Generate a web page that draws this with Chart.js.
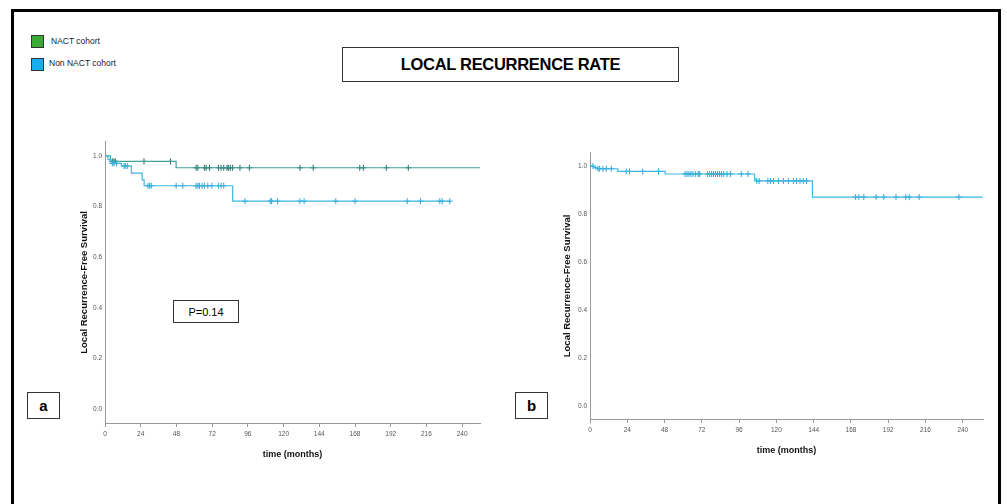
<!DOCTYPE html>
<html>
<head>
<meta charset="utf-8">
<script src="https://cdn.jsdelivr.net/npm/chart.js@4.4.0/dist/chart.umd.min.js"></script>
<style>
  body { margin: 0; background: #fff; width: 1007px; height: 504px; overflow: hidden; position: relative; font-family: "Liberation Sans", Arial, sans-serif; }
  .frame { position: absolute; left: 11px; top: 9px; width: 990px; height: 600px; border: 3px solid #000; box-sizing: border-box; }
  .sw { position: absolute; width: 11px; height: 11px; border: 1px solid #333; }
  .lg { position: absolute; font-size: 8.5px; color: #222; }
  .box { position: absolute; border: 1px solid #333; background: #fff; box-sizing: border-box; display: flex; align-items: center; justify-content: center; }
  canvas { position: absolute; }
</style>
</head>
<body>
<div class="frame"></div>
<div class="sw" style="left:31px;top:35px;background:#3aa935;"></div>
<div class="lg" style="left:51px;top:36px;">NACT cohort</div>
<div class="sw" style="left:31px;top:58px;background:#16aef0;"></div>
<div class="lg" style="left:49px;top:58px;">Non NACT cohort</div>
<div class="box" style="left:342px;top:47px;width:337px;height:35px;font-weight:bold;font-size:16.5px;letter-spacing:-0.3px;">LOCAL RECURRENCE RATE</div>
<div class="box" style="left:173px;top:300px;width:66px;height:23px;font-size:11px;">P=0.14</div>
<div class="box" style="left:27px;top:392px;width:33px;height:27px;font-weight:bold;font-size:15px;">a</div>
<div class="box" style="left:515px;top:392px;width:33px;height:27px;font-weight:bold;font-size:15px;">b</div>
<canvas id="chartA" width="410" height="330" style="left:75px;top:135px;"></canvas>
<canvas id="chartB" width="430" height="315" style="left:558px;top:146px;"></canvas>
<script>
let xTicks = [0, 24, 48, 72, 96, 120, 144, 168, 192, 216, 240];
let yTicks = [0, 0.2, 0.4, 0.6, 0.8, 1.0];

// panel a
let nactEventTimes = [3.6, 47.8];
let nactSurvival = [0.978, 0.953];
let nactEnd = 252;
let nactCensored = [4.9, 6.0, 6.9, 26.2, 44.0, 61.2, 62.4, 66.8, 68.0, 70.2, 76.2, 78.0, 79.8, 82.0, 82.9, 84.2, 85.8, 90.7, 97.0, 131.0, 139.9, 171.2, 173.6, 189.0, 203.8];

let nonNactEventTimes = [2, 4, 11, 17.7, 25, 26.3, 85.8];
let nonNactSurvival = [0.985, 0.97, 0.96, 0.932, 0.905, 0.882, 0.821];
let nonNactEnd = 232;
let nonNactCensored = [4.9, 6.0, 7.8, 12.8, 13.6, 15.0, 28.9, 30.0, 31.1, 47.8, 52.3, 61.2, 62.4, 63.5, 65.3, 66.8, 69.1, 71.8, 76.2, 78.0, 79.8, 94.1, 111.1, 112.0, 116.0, 131.0, 133.8, 155.1, 168.0, 203.1, 212.0, 225.0, 226.6, 231.7];

// panel b
let allEventTimes = [2.6, 4.5, 17.9, 48.4, 106, 107, 143.2];
let allSurvival = [0.994, 0.989, 0.978, 0.967, 0.945, 0.938, 0.871];
let allEnd = 252.8;
let allCensored = [1.9, 5.1, 6.2, 8.3, 10.5, 13.7, 23.3, 25.4, 33.9, 44.1, 61.2, 62.5, 63.7, 65.0, 66.3, 68.0, 69.7, 70.6, 75.7, 77.0, 78.3, 79.5, 80.8, 82.1, 83.4, 84.7, 86.1, 88.3, 90.4, 97.4, 101.7, 107.4, 108.9, 114.5, 116.2, 118.1, 121.3, 124.5, 127.7, 130.9, 133.0, 135.2, 137.3, 139.4, 171.0, 173.1, 176.3, 184.2, 189.1, 197.0, 203.3, 205.5, 211.9, 237.5];

Chart.defaults.font.family = '"Liberation Sans", Arial, sans-serif';

function stepLine(times, surv, end) {
  let pts = [{x: 0, y: 1}];
  times.forEach((t, i) => pts.push({x: t, y: surv[i]}));
  pts.push({x: end, y: surv[surv.length - 1]});
  return pts;
}

function survAt(times, surv, t) {
  let s = 1;
  times.forEach((e, i) => { if (e <= t) s = surv[i]; });
  return s;
}

function censorPoints(times, surv, cens) {
  return cens.map(t => ({x: t, y: survAt(times, surv, t)}));
}

function curve(times, surv, end, color) {
  return {
    type: 'line', data: stepLine(times, surv, end), stepped: true,
    borderColor: color, borderWidth: 1.2, pointRadius: 0, fill: false
  };
}

function marks(times, surv, cens, color) {
  return {
    type: 'scatter', data: censorPoints(times, surv, cens), showLine: false,
    pointStyle: 'cross', pointRadius: 3, borderColor: color, borderWidth: 1, backgroundColor: color
  };
}

function scales(xMax, yWidth) {
  return {
    x: {
      type: 'linear', min: 0, max: xMax,
      afterBuildTicks: s => { s.ticks = xTicks.map(v => ({value: v})); },
      afterFit: s => { s.height = 42; },
      grid: {display: true, drawOnChartArea: false, drawTicks: true, tickLength: 4, color: '#999'},
      border: {color: '#999', width: 1},
      ticks: {font: {size: 6.5}, color: '#555', padding: 3, maxRotation: 0, autoSkip: false},
      title: {display: true, text: 'time (months)', font: {size: 9, weight: 'bold'}, color: '#111', padding: {top: 0, bottom: 5}}
    },
    y: {
      type: 'linear', min: -0.054, max: 1.055,
      afterBuildTicks: s => { s.ticks = yTicks.map(v => ({value: v})); },
      afterFit: s => { s.width = yWidth; },
      grid: {display: true, drawOnChartArea: false, drawTicks: false, color: '#999'},
      border: {color: '#999', width: 1},
      ticks: {font: {size: 6.5}, color: '#555', padding: 3, callback: v => v.toFixed(1)},
      title: {display: true, text: 'Local Recurrence-Free Survival', font: {size: 9.5, weight: 'bold'}, color: '#111', padding: {top: 4, bottom: 0}}
    }
  };
}

let commonPlugins = {legend: {display: false}, tooltip: {enabled: false}};

new Chart(document.getElementById('chartA').getContext('2d'), {
  data: {
    datasets: [
      curve(nonNactEventTimes, nonNactSurvival, nonNactEnd, '#3db7e6'),
      marks(nonNactEventTimes, nonNactSurvival, nonNactCensored, '#2ea6d8'),
      curve(nactEventTimes, nactSurvival, nactEnd, '#43a39b'),
      marks(nactEventTimes, nactSurvival, nactCensored, '#1f6a63')
    ]
  },
  options: {
    responsive: false, animation: false,
    layout: {padding: {top: 6, right: 3, left: 0, bottom: 0}},
    scales: scales(252, 30),
    plugins: commonPlugins
  }
});

new Chart(document.getElementById('chartB').getContext('2d'), {
  data: {
    datasets: [
      curve(allEventTimes, allSurvival, allEnd, '#3db7e6'),
      marks(allEventTimes, allSurvival, allCensored, '#2ea6d8')
    ]
  },
  options: {
    responsive: false, animation: false,
    layout: {padding: {top: 6, right: 2, left: 0, bottom: 0}},
    scales: scales(253, 32),
    plugins: commonPlugins
  }
});
</script>
</body>
</html>
